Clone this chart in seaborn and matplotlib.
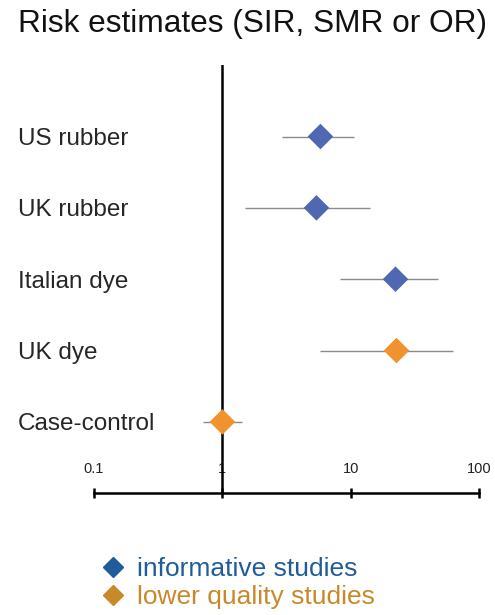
import numpy as np
import pandas as pd
import matplotlib
matplotlib.use('Agg')
import matplotlib.pyplot as plt
import seaborn as sns
from matplotlib.lines import Line2D

# risk estimates
studies = ['US rubber', 'UK rubber', 'Italian dye', 'UK dye', 'Case-control']
estimate = [5.8, 5.4, 22.3, 22.7, 1.0]
ci_low = [2.9, 1.5, 8.3, 5.8, 0.71]
ci_high = [10.5, 14.2, 48.0, 63.0, 1.43]
quality = ['informative', 'informative', 'informative', 'lower', 'lower']

tick_vals = [0.1, 1, 10, 100]
tick_labels = ['0.1', '1', '10', '100']

df = pd.DataFrame({'study': studies, 'est': estimate, 'lo': ci_low,
                   'hi': ci_high, 'quality': quality})
df['pos'] = np.arange(len(df))

sns.set_style('white')
plt.rcParams['font.family'] = ['Liberation Sans', 'DejaVu Sans']

marker_cols = {'informative': '#5068b2', 'lower': '#f0922e'}

fig = plt.figure(figsize=(4.95, 6.15), dpi=100)
ax = fig.add_axes([0.190, 0.198, 0.778, 0.696])

# confidence interval lines
ax.hlines(df['pos'], df['lo'], df['hi'], color='#8a8a8a', lw=1.0, zorder=2)

sns.scatterplot(data=df, x='est', y='pos', hue='quality', palette=marker_cols,
                marker='D', s=170, edgecolor='none', legend=False, ax=ax, zorder=4)

ax.axvline(1, color='black', lw=1.8, zorder=3)

ax.set_xscale('log')
ax.set_xlim(0.1, 100)
ax.set_ylim(len(df), -1)
ax.set_xticks(tick_vals)
ax.set_xticklabels(tick_labels, fontsize=10.5)
ax.xaxis.set_minor_locator(matplotlib.ticker.NullLocator())
ax.tick_params(axis='x', bottom=True, direction='inout', length=7, width=1.8,
               pad=-26, color='black', labelcolor='#222222')

ax.set_yticks(df['pos'])
ax.set_yticklabels(df['study'], fontsize=17.5)
ax.tick_params(axis='y', length=0, pad=55)
for lab in ax.get_yticklabels():
    lab.set_ha('left')

for s in ['top', 'right', 'left']:
    ax.spines[s].set_visible(False)
ax.spines['bottom'].set_linewidth(1.8)
ax.spines['bottom'].set_color('black')
ax.set_xlabel('')
ax.set_ylabel('')

fig.text(0.036, 0.985, 'Risk estimates (SIR, SMR or OR)', fontsize=22.8,
         ha='left', va='top', color='#111111')

handles = [Line2D([], [], marker='D', ls='none', color='#1f5c99', markersize=10),
           Line2D([], [], marker='D', ls='none', color='#c8892a', markersize=10)]
fig.legend(handles, ['informative studies', 'lower quality studies'],
           loc='upper left', bbox_to_anchor=(0.181, 0.116),
           frameon=False, fontsize=19, handlelength=0.8, handletextpad=0.5,
           labelspacing=0.15, borderpad=0, labelcolor=['#1f5c99', '#c8892a'])

fig.savefig('out.png', dpi=100)
